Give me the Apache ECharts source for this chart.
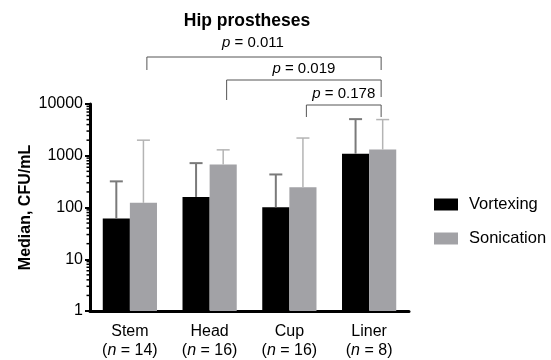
<!DOCTYPE html>
<html><head><meta charset="utf-8">
<script src="https://cdn.jsdelivr.net/npm/echarts@6/dist/echarts.min.js"></script>
<style>html,body{margin:0;padding:0;background:#fff}#c{width:551px;height:360px}</style>
</head><body><div id="c"></div>
<script>
const categories = ['Stem', 'Head', 'Cup', 'Liner'];
const nCounts = [14, 16, 16, 8];
const vortexMedian = [61, 160, 101, 1090];
const vortexUpper = [320, 720, 435, 5100];
const sonicMedian = [123, 680, 245, 1320];
const sonicUpper = [2000, 1300, 2200, 5000];
const minorTickValues = [2,3,4,5,6,7,8,9,20,30,40,50,60,70,80,90,200,300,400,500,600,700,800,900,2000,3000,4000,5000,6000,7000,8000,9000];
const pFrom = [0, 1, 2];
const pTo = [3, 3, 3];
const pValues = ['0.011', '0.019', '0.178'];

const FONT = 'Liberation Sans, Arial, sans-serif';
const GAP = 0.32;
const chart = echarts.init(document.getElementById('c'), null, {renderer: 'canvas'});

function errSeries(name, med, up, side, color, width) {
  return {
    type: 'custom', name: name + '_err', silent: true, z: 5,
    data: categories.map((c, i) => [i, med[i], up[i]]),
    renderItem: function (params, api) {
      const band = api.size([1, 1])[0];
      const bw = band * (1 - GAP) / 2;
      const base = api.coord([api.value(0), api.value(1)]);
      const top = api.coord([api.value(0), api.value(2)]);
      const x = base[0] + side * bw / 2;
      return {
        type: 'group', children: [
          {type: 'line', shape: {x1: x, y1: base[1], x2: x, y2: top[1]}, style: {stroke: color, lineWidth: width}},
          {type: 'line', shape: {x1: x - 6.5, y1: top[1], x2: x + 6.5, y2: top[1]}, style: {stroke: color, lineWidth: width}}
        ]
      };
    }
  };
}

const option = {
  animation: false,
  textStyle: {fontFamily: FONT},
  title: {
    text: 'Hip prostheses', left: 242, top: 7, textAlign: 'center',
    textStyle: {fontFamily: FONT, fontSize: 17.5, fontWeight: 'bold', color: '#000'}
  },
  legend: {
    orient: 'vertical', left: 429, top: 191,
    itemWidth: 24, itemHeight: 12, itemGap: 17,
    icon: 'rect',
    data: ['Vortexing', 'Sonication'],
    textStyle: {fontFamily: FONT, fontSize: 16.5, color: '#000', padding: [0, 0, 0, 6]}
  },
  grid: {left: 90, right: 142, top: 104, bottom: 47},
  xAxis: {
    type: 'category', data: categories,
    axisLine: {lineStyle: {color: '#000', width: 3}},
    axisTick: {alignWithLabel: true, length: 5, lineStyle: {color: '#000', width: 2}},
    axisLabel: {
      interval: 0, margin: 11, color: '#000', fontSize: 16, fontFamily: FONT, lineHeight: 19,
      formatter: function (v, i) { return v + '\n({i|n} = ' + nCounts[i] + ')'; },
      rich: {i: {fontStyle: 'italic', fontSize: 16, fontFamily: FONT, color: '#000', lineHeight: 19}}
    }
  },
  yAxis: {
    type: 'log', logBase: 10, min: 1, max: 10000,
    name: 'Median, CFU/mL', nameLocation: 'middle', nameGap: 56, nameMoveOverlap: false,
    nameTextStyle: {fontFamily: FONT, fontSize: 16, fontWeight: 'bold', color: '#000'},
    axisLine: {show: true, lineStyle: {color: '#000', width: 3}},
    axisTick: {show: true, length: 5, lineStyle: {color: '#000', width: 2}},
    axisLabel: {margin: 7, color: '#000', fontSize: 16, fontFamily: FONT,
      formatter: function (v) { return String(Math.round(v)); }},
    splitLine: {show: false}
  },
  series: [
    {name: 'Vortexing', type: 'bar', data: vortexMedian, barGap: '0%', barCategoryGap: (GAP * 100) + '%',
     itemStyle: {color: '#000'}},
    {name: 'Sonication', type: 'bar', data: sonicMedian, barGap: '0%', barCategoryGap: (GAP * 100) + '%',
     itemStyle: {color: '#a2a2a6'}},
    errSeries('Vortexing', vortexMedian, vortexUpper, -1, '#7a7a7a', 2),
    errSeries('Sonication', sonicMedian, sonicUpper, 1, '#b4b4b4', 1.5),
    {
      type: 'custom', silent: true, z: 6,
      data: minorTickValues.map(v => [0, v]),
      renderItem: function (params, api) {
        const p = api.coord([0, api.value(1)]);
        const x = params.coordSys.x;
        return {type: 'line', shape: {x1: x - 3.5, y1: p[1], x2: x, y2: p[1]}, style: {stroke: '#000', lineWidth: 1.5}};
      }
    }
  ]
};
chart.setOption(option);

// significance brackets
const lineY = [57, 80, 105];
const leftDrop = [70, 100, 117];
const rightDrop = [70, 97, 117];
const textY = [43, 69, 94];
const textShift = [-11, 0, 0];
const graphics = [];
pValues.forEach((p, k) => {
  const xl = chart.convertToPixel({xAxisIndex: 0}, categories[pFrom[k]]) + 17;
  const xr = chart.convertToPixel({xAxisIndex: 0}, categories[pTo[k]]) + 12;
  graphics.push({
    type: 'polyline', silent: true,
    shape: {points: [[xl, leftDrop[k]], [xl, lineY[k]], [xr, lineY[k]], [xr, rightDrop[k]]]},
    style: {stroke: '#555', lineWidth: 1, fill: null}
  });
  graphics.push({
    type: 'text', silent: true, x: (xl + xr) / 2 + textShift[k], y: textY[k],
    style: {
      text: '{i|p} = ' + p, align: 'center', verticalAlign: 'middle',
      font: '15px ' + FONT, fill: '#000',
      rich: {i: {fontStyle: 'italic', fontSize: 15, fontFamily: FONT, fill: '#000'}}
    }
  });
});
chart.setOption({graphic: graphics});
</script></body></html>
